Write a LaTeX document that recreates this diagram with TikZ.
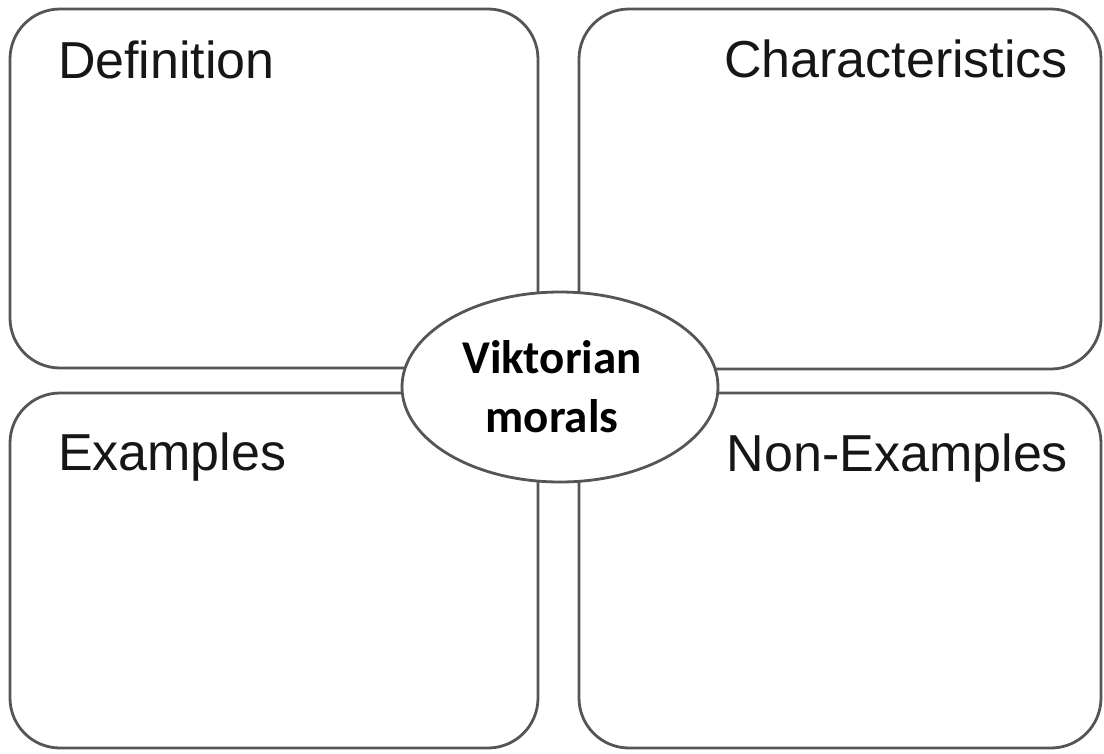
\documentclass[tikz,border=0pt]{standalone}
\usepackage{fontspec}
\setmainfont{Liberation Sans}
\newfontfamily\carlito{Carlito}
\usepackage{xcolor}
\usetikzlibrary{shapes.geometric}
\definecolor{framegray}{HTML}{555555}
\definecolor{labelblack}{HTML}{161616}

\begin{document}
\begin{tikzpicture}[
x=1pt, y=-1pt,
line width=2.8pt,
every node/.style={inner sep=0pt, outer sep=0pt},
panel/.style={draw=framegray, rounded corners=50pt},
title/.style={text=labelblack, font=\fontsize{52}{60}\selectfont},
]
\useasboundingbox (0,0) rectangle (1104,753);
% panels
\draw[panel] (10,9) rectangle (538,368);
\draw[panel] (579,9) rectangle (1101,369);
\draw[panel] (10,393) rectangle (538,748);
\draw[panel] (579,393) rectangle (1101,748);
% labels
\node[title, anchor=base west] (def) at (58,78) {Definition};
\node[title, anchor=base east] (char) at (1068,77) {Characteristics};
\node[title, anchor=base west] (ex) at (58,470) {Examples};
\node[title, anchor=base east] (nonex) at (1068,471) {Non-Examples};
% centre
\node[draw=framegray, fill=white, ellipse, minimum width=316pt, minimum height=190pt] (topic) at (560,387) {};
\node[align=center, font=\carlito\bfseries\fontsize{47}{59}\selectfont, text=black] (name) at (552,387) {Viktorian\\morals};
\end{tikzpicture}
\end{document}
